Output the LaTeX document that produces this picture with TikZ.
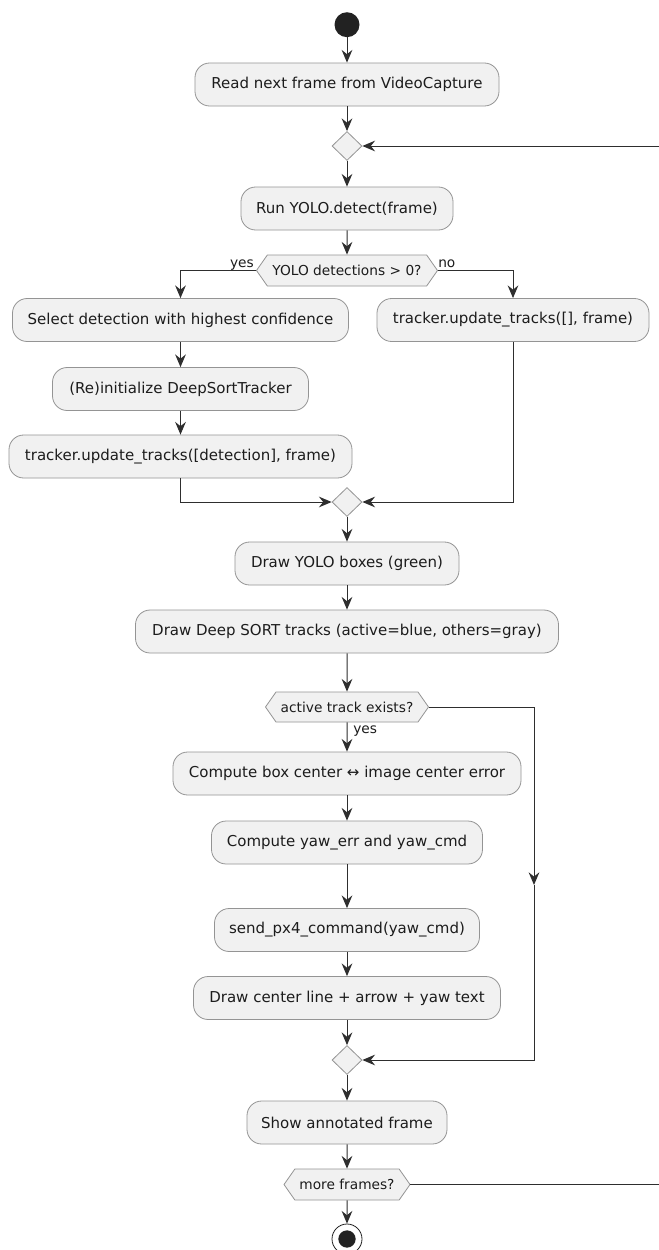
\documentclass[tikz,border=0pt]{standalone}
\usepackage{fontspec}
\setmainfont{DejaVu Sans}
\usetikzlibrary{arrows.meta,shapes.geometric,shapes.symbols}
\definecolor{boxfill}{HTML}{F1F1F1}
\definecolor{boxline}{HTML}{949494}
\definecolor{lnc}{HTML}{2E2E2E}
\definecolor{dot}{HTML}{222222}
\definecolor{txt}{HTML}{1C1C1C}
\tikzset{
  act/.style={draw=boxline, line width=0.6pt, fill=boxfill, rounded corners=11pt,
    minimum height=32.25pt, inner sep=0pt, text=txt, font=\fontsize{11.25}{13}\selectfont},
  hexa/.style={signal, signal to=west and east, signal pointer angle=110, draw=boxline,
    fill=boxfill, line width=0.6pt, inner sep=0pt, minimum height=23.25pt, text=txt,
    font=\fontsize{10.3}{12}\selectfont},
  mrg/.style={diamond, draw=boxline, fill=boxfill, line width=0.6pt, minimum width=22.5pt,
    minimum height=21.75pt, inner sep=0pt},
  flow/.style={draw=lnc, line width=0.75pt, -{Stealth[length=9.5pt,width=8pt,inset=3.2pt]}},
  lbl/.style={font=\fontsize{10.3}{12}\selectfont, inner sep=0pt, text=txt}
}
\begin{document}
\begin{tikzpicture}[x=0.75pt,y=-0.75pt]
\useasboundingbox (0,0) rectangle (659,1250);
\clip (0,0) rectangle (659,1250);
\fill[white] (0,0) rectangle (659,1250);

% nodes
\node[circle, fill=dot, minimum size=18.75pt, inner sep=0pt] (start) at (347,24.7) {};
\node[act, minimum width=228pt] (read) at (347,84.5) {Read next frame from VideoCapture};
\node[mrg] (m1) at (347,146) {};
\node[act, minimum width=159pt] (run) at (347,208.5) {Run YOLO.detect(frame)};
\node[hexa, minimum width=135.75pt] (dec1) at (347,270.5) {YOLO detections > 0?};
\node[act, minimum width=252pt] (select) at (180.5,320) {Select detection with highest confidence};
\node[act, minimum width=204pt] (upd0) at (513,320) {tracker.update\_tracks([], frame)};
\node[act, minimum width=192pt] (reinit) at (180.5,389) {(Re)initialize DeepSortTracker};
\node[act, minimum width=257.25pt] (upddet) at (180.5,456.5) {tracker.update\_tracks([detection], frame)};
\node[mrg] (m2) at (347,502) {};
\node[act, minimum width=168pt] (dyolo) at (347,563.5) {Draw YOLO boxes (green)};
\node[act, minimum width=317.25pt] (dsort) at (347,631.5) {Draw Deep SORT tracks (active=blue, others=gray)};
\node[hexa, minimum width=122.25pt, minimum height=22.5pt] (active) at (347,707) {active track exists?};
\node[act, minimum width=261pt] (cbox) at (347,773.5) {Compute box center ↔ image center error};
\node[act, minimum width=203.25pt] (cyaw) at (347,842.5) {Compute yaw\_err and yaw\_cmd};
\node[act, minimum width=198.75pt] (send) at (347,930) {send\_px4\_command(yaw\_cmd)};
\node[act, minimum width=230.25pt] (dline) at (347,998) {Draw center line + arrow + yaw text};
\node[mrg] (m3) at (347,1060) {};
\node[act, minimum width=150pt] (show) at (347,1122.5) {Show annotated frame};
\node[hexa, minimum width=94.5pt] (more) at (347,1184.5) {more frames?};
\node[circle, draw=dot, line width=0.6pt, fill=white, minimum size=22.5pt, inner sep=0pt] (stop) at (347,1239) {};
\node[circle, fill=dot, minimum size=13pt, inner sep=0pt] (stopin) at (347,1239) {};

% labels
\node[lbl, anchor=base east] (lyes1) at (254,267.5) {yes};
\node[lbl, anchor=base west] (lno1) at (438,267.5) {no};
\node[lbl, anchor=base west] (lyes2) at (353,733) {yes};

% helper coordinates
\coordinate (rc) at (534,885);
\coordinate (lp) at (675,1184.5);

% connectors
\draw[flow] (start) -- (read);
\draw[flow] (read) -- (m1);
\draw[flow] (m1) -- (run);
\draw[flow] (run) -- (dec1);
\draw[flow] (dec1.west) -| (select.north);
\draw[flow] (dec1.east) -| (upd0.north);
\draw[flow] (select) -- (reinit);
\draw[flow] (reinit) -- (upddet);
\draw[flow] (upddet.south) |- (m2.west);
\draw[flow] (upd0.south) |- (m2.east);
\draw[flow] (m2) -- (dyolo);
\draw[flow] (dyolo) -- (dsort);
\draw[flow] (dsort) -- (active);
\draw[flow] (active) -- (cbox);
\draw[flow] (active.east) -| (rc);
\draw[flow] (rc) |- (m3.east);
\draw[flow] (cbox) -- (cyaw);
\draw[flow] (cyaw) -- (send);
\draw[flow] (send) -- (dline);
\draw[flow] (dline) -- (m3);
\draw[flow] (m3) -- (show);
\draw[flow] (show) -- (more);
\draw[flow] (more) -- (stop);
\draw[flow] (more.east) -- (lp) |- (m1.east);
\end{tikzpicture}
\end{document}
